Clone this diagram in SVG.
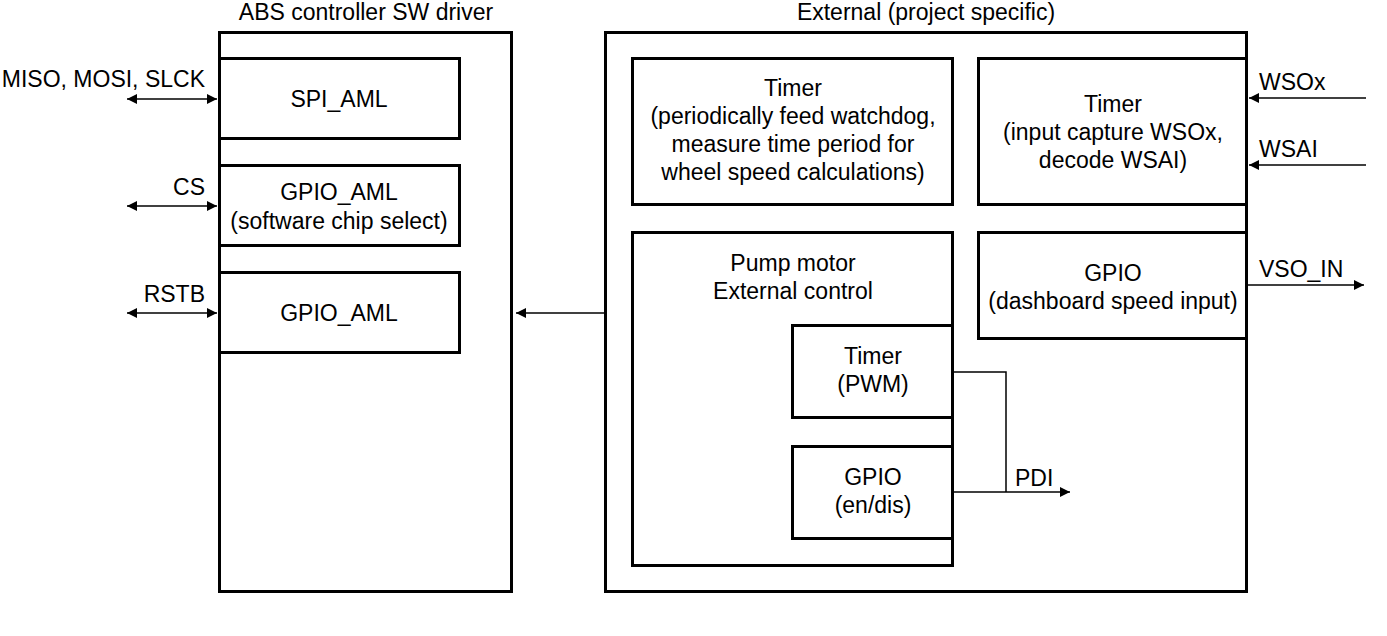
<svg xmlns="http://www.w3.org/2000/svg" width="1387" height="636" viewBox="0 0 1387 636">
<style>
.box{fill:none;stroke:#000;stroke-width:3}
.t{font-family:"Liberation Sans",Arial,sans-serif;font-size:23px;fill:#000}
.c{text-anchor:middle}
.r{text-anchor:end}
.ln{fill:none;stroke:#000;stroke-width:1.5}
</style>
<defs>
<marker id="ah" viewBox="0 0 10 10" refX="10" refY="5" markerWidth="10" markerHeight="10" markerUnits="userSpaceOnUse" orient="auto-start-reverse">
<path d="M0,0 L10,5 L0,10 z" fill="#000"/>
</marker>
</defs>
<rect width="1387" height="636" fill="#fff"/>
<g id="abs-driver">
<rect class="box" x="219.5" y="32.5" width="292" height="559"/>
<text class="t c" x="366" y="20">ABS controller SW driver</text>
</g>
<g id="spi-aml">
<rect class="box" x="219.5" y="58.5" width="240" height="80"/>
<text class="t c" x="339" y="107">SPI_AML</text>
</g>
<g id="gpio-aml-cs">
<rect class="box" x="219.5" y="165.5" width="240" height="80"/>
<text class="t c" x="339" y="200">GPIO_AML</text>
<text class="t c" x="339" y="229">(software chip select)</text>
</g>
<g id="gpio-aml-rstb">
<rect class="box" x="219.5" y="272.5" width="240" height="80"/>
<text class="t c" x="339" y="321">GPIO_AML</text>
</g>
<g id="external">
<rect class="box" x="605.5" y="32.5" width="641" height="559"/>
<text class="t c" x="926" y="20">External (project specific)</text>
</g>
<g id="timer-watchdog">
<rect class="box" x="632.5" y="58.5" width="320" height="146"/>
<text class="t c" x="793" y="96">Timer</text>
<text class="t c" x="793" y="124">(periodically feed watchdog,</text>
<text class="t c" x="793" y="152">measure time period for</text>
<text class="t c" x="793" y="180">wheel speed calculations)</text>
</g>
<g id="timer-capture">
<rect class="box" x="978.5" y="58.5" width="268" height="146"/>
<text class="t c" x="1113" y="112">Timer</text>
<text class="t c" x="1113" y="140">(input capture WSOx,</text>
<text class="t c" x="1113" y="168">decode WSAI)</text>
</g>
<g id="pump-motor">
<rect class="box" x="632.5" y="232.5" width="320" height="333"/>
<text class="t c" x="793" y="271">Pump motor</text>
<text class="t c" x="793" y="299">External control</text>
</g>
<g id="gpio-dashboard">
<rect class="box" x="978.5" y="232.5" width="268" height="106"/>
<text class="t c" x="1113" y="281">GPIO</text>
<text class="t c" x="1113" y="309">(dashboard speed input)</text>
</g>
<g id="timer-pwm">
<rect class="box" x="792.5" y="325.5" width="160" height="92"/>
<text class="t c" x="873" y="364">Timer</text>
<text class="t c" x="873" y="392">(PWM)</text>
</g>
<g id="gpio-endis">
<rect class="box" x="792.5" y="446.5" width="160" height="92"/>
<text class="t c" x="873" y="485">GPIO</text>
<text class="t c" x="873" y="513">(en/dis)</text>
</g>
<g id="connectors">
<line class="ln" x1="127" y1="99" x2="217" y2="99" marker-start="url(#ah)" marker-end="url(#ah)"/>
<line class="ln" x1="127" y1="206" x2="217" y2="206" marker-start="url(#ah)" marker-end="url(#ah)"/>
<line class="ln" x1="127" y1="313" x2="217" y2="313" marker-start="url(#ah)" marker-end="url(#ah)"/>
<line class="ln" x1="605" y1="313" x2="516" y2="313" marker-end="url(#ah)"/>
<line class="ln" x1="1366" y1="98" x2="1249" y2="98" marker-end="url(#ah)"/>
<line class="ln" x1="1366" y1="165" x2="1249" y2="165" marker-end="url(#ah)"/>
<line class="ln" x1="1247" y1="285" x2="1364" y2="285" marker-end="url(#ah)"/>
<polyline class="ln" points="954,372 1006,372 1006,492"/>
<line class="ln" x1="954" y1="492" x2="1070" y2="492" marker-end="url(#ah)"/>
<text class="t r" x="205" y="87">MISO, MOSI, SLCK</text>
<text class="t r" x="205" y="195">CS</text>
<text class="t r" x="205" y="302">RSTB</text>
<text class="t" x="1259" y="90">WSOx</text>
<text class="t" x="1259" y="157">WSAI</text>
<text class="t" x="1259" y="277">VSO_IN</text>
<text class="t" x="1015" y="486">PDI</text>
</g>
</svg>
